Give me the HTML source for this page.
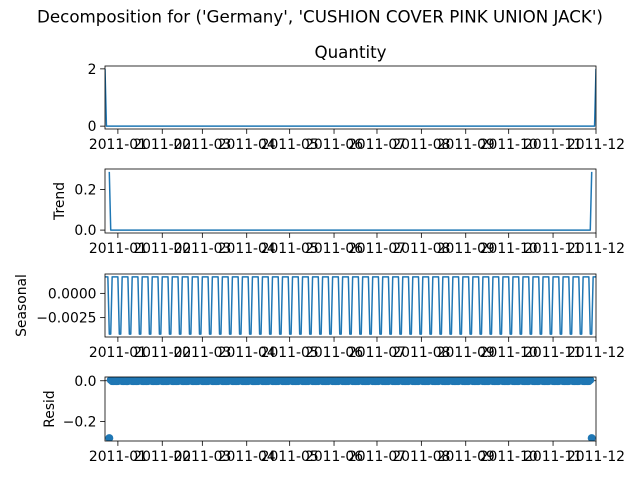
<!DOCTYPE html>
<html><head><meta charset="utf-8"><style>
body{margin:0;background:#fff}
svg text{font-family:"DejaVu Sans","Liberation Sans",sans-serif;fill:#000}
</style></head><body>
<svg id="fig" width="640" height="480" viewBox="0 0 640 480" xmlns="http://www.w3.org/2000/svg">
<rect width="640" height="480" fill="#fff"/>
<text x="320" y="22.5" text-anchor="middle" font-size="16.7">Decomposition for ('Germany', 'CUSHION COVER PINK UNION JACK')</text>
</svg>
<script>
// Data
const startDate = "2010-12-23";
const nDays = 344;
const observedSpikes = [[0, 2], [343, 2]];
const trendPeaks = [[3, 0.286], [340, 0.286]];
const seasonalPattern = [0.0017, 0.0017, 0.0017, -0.0042, -0.0042, 0.0017, 0.0017];
const monthTicks = ["2011-01","2011-02","2011-03","2011-04","2011-05","2011-06","2011-07","2011-08","2011-09","2011-10","2011-11","2011-12"];
const qTicks = [0, 2], qLabels = ["0", "2"];
const tTicks = [0, 0.2], tLabels = ["0.0", "0.2"];
const sTicks = [-0.0025, 0], sLabels = ["\u22120.0025", "0.0000"];
const rTicks = [-0.2, 0], rLabels = ["\u22120.2", "0.0"];

const svg = document.getElementById('fig');
const NS = "http://www.w3.org/2000/svg";
function mk(tag, attrs, parent) { const e = document.createElementNS(NS, tag); for (const k in attrs) e.setAttribute(k, attrs[k]); (parent || svg).appendChild(e); return e; }

const observed = [], trend = [], seasonal = [], resid = [];
for (let i = 0; i < nDays; i++) { observed.push(0); trend.push(i < 3 || i >= nDays - 3 ? null : 0); seasonal.push(seasonalPattern[i % 7]); }
observedSpikes.forEach(([d, v]) => observed[d] = v);
trendPeaks.forEach(([d, v]) => trend[d] = v);
for (let i = 0; i < nDays; i++) resid.push(trend[i] === null ? null : observed[i] - trend[i] - seasonal[i]);

const t0 = Date.parse(startDate + "T00:00:00Z");
const L = 105, R = 596;
const dayMax = nDays - 1;
function xOfDay(d) { return L + d / dayMax * (R - L); }
function xOfDate(s) { return xOfDay((Date.parse(s + "-01T00:00:00Z") - t0) / 86400000); }

function ylimOf(arr) { const v = arr.filter(a => a !== null); const mn = Math.min(...v), mx = Math.max(...v); const m = (mx - mn) * 0.05; return [mn - m, mx + m]; }

function panel(name, top, bottom, arr, ticks, labels, ylabel, title, markers) {
  const g = mk('g', {}); 
  
  
  const [lo, hi] = ylimOf(arr);
  const y = v => bottom - (v - lo) / (hi - lo) * (bottom - top);
  const cid = 'clip-' + name;
  const cp = mk('clipPath', { id: cid }, g); mk('rect', { x: L, y: top, width: R - L, height: bottom - top }, cp);
  if (!markers) {
    let d = "", pen = false;
    arr.forEach((v, i) => { if (v === null) { pen = false; return; } d += (pen ? "L" : "M") + xOfDay(i).toFixed(2) + "," + y(v).toFixed(2); pen = true; });
    const p = mk('path', { d, fill: "none", stroke: "#1f77b4", "stroke-width": 1.5, "stroke-linejoin": "round", "clip-path": `url(#${cid})` }, g);
    
    
  } else {
    const zl = mk('line', { x1: L, x2: R, y1: y(0), y2: y(0), stroke: "#000", "stroke-width": 0.8 }, g);
    
    
    arr.forEach((v, i) => { if (v === null) return;
      const c = mk('circle', { cx: xOfDay(i), cy: y(v), r: 4, fill: "#1f77b4", "clip-path": `url(#${cid})` }, g);
      
      
    });
  }
  const fr = mk('rect', { x: L, y: top, width: R - L, height: bottom - top, fill: "none", stroke: "#000", "stroke-width": 0.8 }, g);
  
  
  ticks.forEach((t, k) => {
    const yy = y(t);
    mk('line', { x1: L - 4.9, x2: L, y1: yy, y2: yy, stroke: "#000", "stroke-width": 0.8 }, g);
    const tx = mk('text', { x: L - 8.5, y: yy + 5, "text-anchor": "end", "font-size": 13.9 }, g);
    tx.textContent = labels[k];
    
    
  });
  monthTicks.forEach(m => {
    const xx = xOfDate(m);
    mk('line', { x1: xx, x2: xx, y1: bottom, y2: bottom + 4.9, stroke: "#000", "stroke-width": 0.8 }, g);
    const tx = mk('text', { x: xx, y: bottom + 20, "text-anchor": "middle", "font-size": 13.9 }, g);
    tx.textContent = m;
    
    
  });
  if (ylabel) {
    const yl = mk('text', { transform: `translate(${ylabel[1]},${(top + bottom) / 2}) rotate(-90)`, "text-anchor": "middle", "font-size": 13.9 }, g);
    yl.textContent = ylabel[0];
    
    
  }
  if (title) {
    const tt = mk('text', { x: (L + R) / 2, y: top - 8, "text-anchor": "middle", "font-size": 16.7 }, g);
    tt.textContent = title;
    
    
  }
}
panel('quantity', 66, 129, observed, qTicks, qLabels, null, "Quantity", false);
panel('trend', 169, 233, trend, tTicks, tLabels, ["Trend", 64], null, false);
panel('seasonal', 274, 337, seasonal, sTicks, sLabels, ["Seasonal", 26], null, false);
panel('resid', 377, 441, resid, rTicks, rLabels, ["Resid", 54], null, true);
</script>
</body></html>
